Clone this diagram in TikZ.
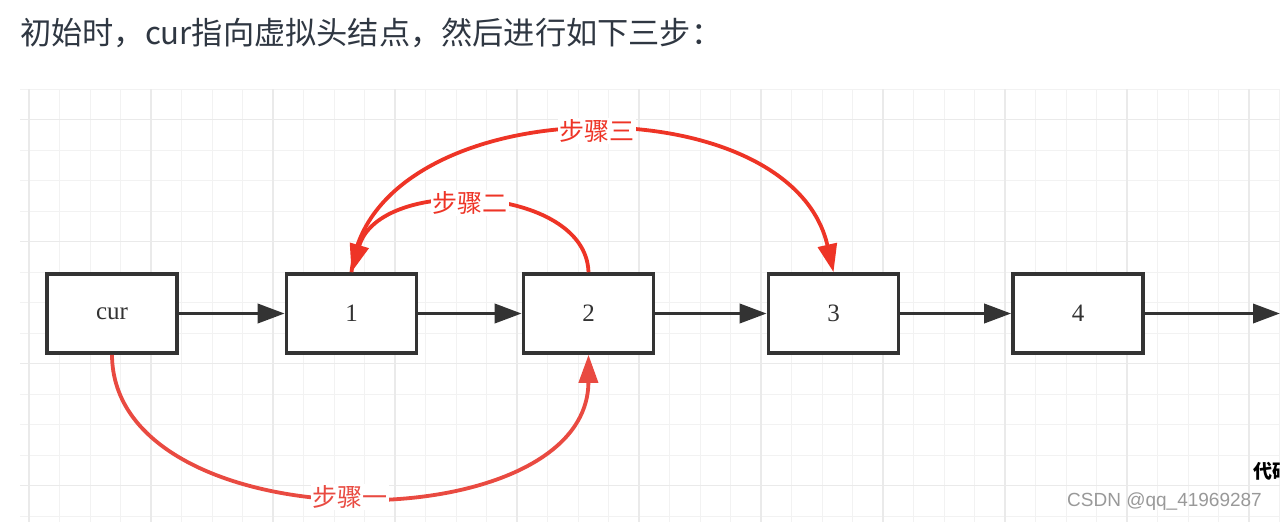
\documentclass[tikz,border=0pt]{standalone}
\usepackage{fontspec}
\setmainfont{Liberation Serif}
\newfontfamily\cjk{Noto Sans CJK SC}
\newfontfamily\wmfont{Liberation Sans}
\usetikzlibrary{arrows.meta}
\definecolor{boxc}{HTML}{333333}
\definecolor{gridminor}{HTML}{F2F2F2}
\definecolor{gridmajor}{HTML}{EAEAEA}
\definecolor{redone}{HTML}{E94A41}
\definecolor{redtwo}{HTML}{EE3426}
\definecolor{titc}{HTML}{2F3742}
\definecolor{wmc}{HTML}{999999}
\tikzset{
  minorline/.style={draw=gridminor, line width=1pt},
  majorline/.style={draw=gridmajor, line width=1.3pt},
  nodebox/.style={draw=boxc, line width=3.6pt, minimum width=130pt, minimum height=79pt,
    inner sep=0pt, fill=white, text=boxc, font=\fontsize{25}{25}\selectfont},
  blk/.style={draw=boxc, line width=3.6pt, -{Triangle[length=27pt,width=19pt]}},
  redarr/.style={line width=3.8pt, -{Triangle[length=28pt,width=19pt]}},
  steplabel/.style={fill=white, inner sep=1.5pt, font=\cjk\fontsize{25}{25}\selectfont}
}
\begin{document}
\begin{tikzpicture}[x=1pt,y=-1pt]
\useasboundingbox (0,0) rectangle (1280,522);
\fill[white] (0,0) rectangle (1280,522);
% grid
\foreach \i in {0,...,41} { \draw[minorline] ({29+30.5*\i},89) -- ({29+30.5*\i},522); }
\foreach \j in {0,...,14} { \draw[minorline] (20,{89+30.5*\j}) -- (1280,{89+30.5*\j}); }
\foreach \i in {0,...,10} { \draw[majorline] ({29+122*\i},89) -- ({29+122*\i},522); }
\foreach \j in {0,...,3} { \draw[majorline] (20,{119.5+122*\j}) -- (1280,{119.5+122*\j}); }
% title
\node[anchor=west, inner sep=0pt, text=titc, font=\cjk\fontsize{31.2}{31.2}\selectfont] (title) at (20,33) {初始时，cur指向虚拟头结点，然后进行如下三步：};
% nodes
\node[nodebox] (cur) at (112,313.5) {cur};
\node[nodebox] (n1) at (351.5,313.5) {1};
\node[nodebox] (n2) at (588.5,313.5) {2};
\node[nodebox] (n3) at (833.5,313.5) {3};
\node[nodebox] (n4) at (1078,313.5) {4};
\coordinate (endp) at (1280,313.5);
% black arrows
\draw[blk] (cur) -- (n1);
\draw[blk] (n1) -- (n2);
\draw[blk] (n2) -- (n3);
\draw[blk] (n3) -- (n4);
\draw[blk] (n4) -- (endp);
% red arrows
\draw[redarr, draw=redone, fill=none] (cur.south) .. controls (113,544) and (588,544) .. (n2.south)
  node[steplabel, text=redone, pos=0.5] (s1) {步骤一};
\draw[redarr, draw=redtwo] (n1.north) .. controls (370,88) and (790,80) .. (n3.north)
  node[steplabel, text=redtwo, pos=0.52] (s3) {步骤三};
\draw[redarr, draw=redtwo] (n2.north) .. controls (586,185) and (380,175) .. (n1.north)
  node[steplabel, text=redtwo, pos=0.53] (s2) {步骤二};
% watermarks
\node[anchor=west, inner sep=0pt, text=wmc, font=\wmfont\fontsize{19}{19}\selectfont] (wm) at (1067,502) {CSDN @qq\_41969287};
\node[anchor=west, inner sep=0pt, text=black, font=\cjk\bfseries\fontsize{19}{19}\selectfont] (dm) at (1253,471) {代码随想录};
\end{tikzpicture}
\end{document}
